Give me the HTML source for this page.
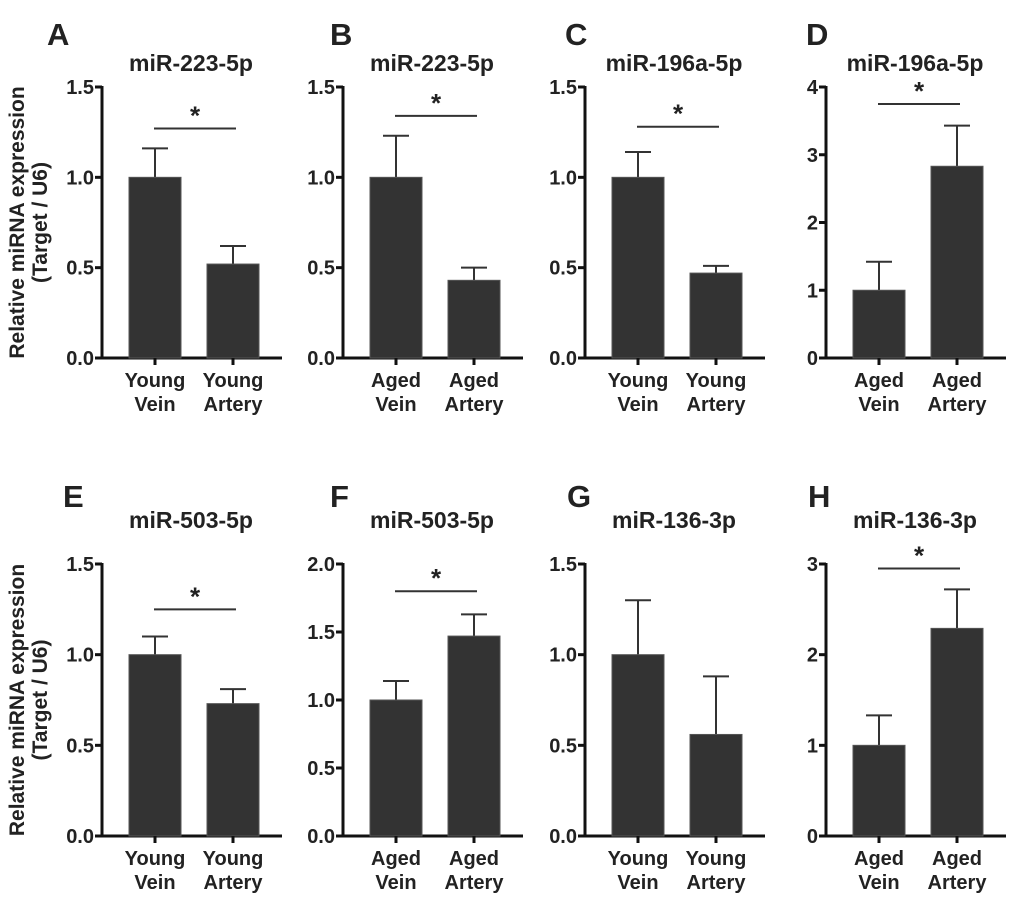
<!DOCTYPE html>
<html><head><meta charset="utf-8"><style>
body{margin:0;background:#fff}
svg text{font-family:"Liberation Sans",Arial,sans-serif;font-weight:bold;fill:#222}
</style></head><body>
<svg id="fig" width="1020" height="904" xmlns="http://www.w3.org/2000/svg"></svg>
<script>
const panelLetters=["A","B","C","D","E","F","G","H"];
const panelTitles=["miR-223-5p","miR-223-5p","miR-196a-5p","miR-196a-5p","miR-503-5p","miR-503-5p","miR-136-3p","miR-136-3p"];
const groupA=["Young","Aged","Young","Aged","Young","Aged","Young","Aged"];
const yMax=[1.5,1.5,1.5,4,1.5,2,1.5,3];
const yStep=[0.5,0.5,0.5,1,0.5,0.5,0.5,1];
const veinMean=[1.0,1.0,1.0,1.0,1.0,1.0,1.0,1.0];
const veinErr=[0.16,0.23,0.14,0.42,0.10,0.14,0.30,0.33];
const arteryMean=[0.52,0.43,0.47,2.83,0.73,1.47,0.56,2.29];
const arteryErr=[0.10,0.07,0.04,0.60,0.08,0.16,0.32,0.43];
const sigLevel=[1.27,1.34,1.28,3.75,1.25,1.80,null,2.95];

const svg=document.getElementById('fig');
const NS='http://www.w3.org/2000/svg';
function mk(tag,attrs,parent){const e=document.createElementNS(NS,tag);for(const k in attrs)e.setAttribute(k,attrs[k]);(parent||svg).appendChild(e);return e;}
const axX=[102,343,585,826];
const letterX=[47,330,565,806,63,330,567,808];
const rowTop=[87,564],rowBot=[358,836];
const letterY=[45,507],titleY=[71,528];
for(let i=0;i<8;i++){
  const col=i%4,row=Math.floor(i/4);
  const ax=axX[col],top=rowTop[row],bot=rowBot[row];
  const g=mk('g',{});
  
  
  const y=v=>bot-(v/yMax[i])*(bot-top);
  const fmt=v=>yStep[i]<1?v.toFixed(1):String(v);
  let t=mk('text',{x:letterX[i],y:letterY[row],'font-size':31,fill:'#000'},g);t.textContent=panelLetters[i];
  
  
  t=mk('text',{x:ax+89,y:titleY[row],'font-size':23,'text-anchor':'middle'},g);t.textContent=panelTitles[i];
  
  
  let l=mk('line',{x1:ax,y1:top-1,x2:ax,y2:bot+1,stroke:'#111','stroke-width':3},g);
  
  
  l=mk('line',{x1:ax-1,y1:bot,x2:ax+180,y2:bot,stroke:'#111','stroke-width':3},g);
  
  
  for(let v=0;v<=yMax[i]+1e-9;v+=yStep[i]){
    mk('line',{x1:ax-7,y1:y(v),x2:ax,y2:y(v),stroke:'#111','stroke-width':3},g);
    const tt=mk('text',{x:ax-8,y:y(v)+7,'font-size':20,'text-anchor':'end'},g);tt.textContent=fmt(v);
    
    
  }
  const means=[veinMean[i],arteryMean[i]],errs=[veinErr[i],arteryErr[i]],names=['Vein','Artery'];
  for(let b=0;b<2;b++){
    const x0=ax+27+b*78,cx=x0+26;
    const yt=y(means[b]+errs[b]);
    mk('line',{x1:cx,y1:yt,x2:cx,y2:y(means[b]),stroke:'#333','stroke-width':2},g);
    mk('line',{x1:cx-13,y1:yt,x2:cx+13,y2:yt,stroke:'#333','stroke-width':2},g);
    const r=mk('rect',{x:x0,y:y(means[b]),width:52,height:bot-y(means[b]),fill:'#333',stroke:'#555','stroke-width':1},g);
    
    
    mk('line',{x1:cx,y1:bot,x2:cx,y2:bot+7,stroke:'#111','stroke-width':3},g);
    let a=mk('text',{x:cx,y:bot+29,'font-size':20,'text-anchor':'middle','font-weight':'normal'},g);a.textContent=groupA[i];
    
    
    a=mk('text',{x:cx,y:bot+53,'font-size':20,'text-anchor':'middle','font-weight':'normal'},g);a.textContent=names[b];
    
    
  }
  if(sigLevel[i]!==null){
    const sy=y(sigLevel[i]);
    const s=mk('line',{x1:ax+52,y1:sy,x2:ax+134,y2:sy,stroke:'#333','stroke-width':2},g);
    
    
    const st=mk('text',{x:ax+93,y:sy-4,'font-size':26,'text-anchor':'middle'},g);st.textContent='*';
    
    
  }
}
for(let row=0;row<2;row++){
  const cy=(rowTop[row]+rowBot[row])/2;
  const t=mk('text',{transform:`translate(24,${cy}) rotate(-90)`,'font-size':21,'text-anchor':'middle'});
  
  
  const a=mk('tspan',{x:0,dy:0},t);a.textContent='Relative miRNA expression';
  const b=mk('tspan',{x:0,dy:23},t);b.textContent='(Target / U6)';
}
</script>
</body></html>
